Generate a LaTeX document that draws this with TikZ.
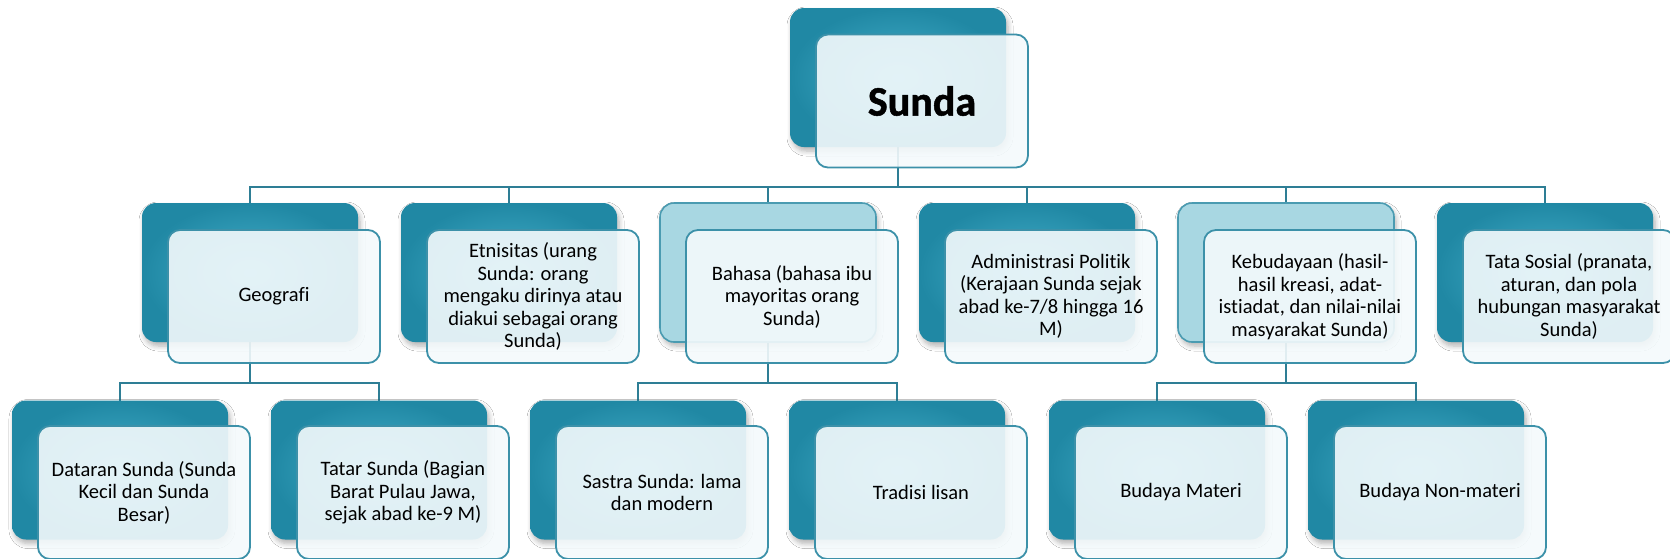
\documentclass[tikz,border=0pt]{standalone}
\usepackage{fontspec}
\setmainfont[Ligatures=NoCommon]{Carlito}
\newfontfamily\heavyfont[FakeBold=1.2]{Carlito}
\usetikzlibrary{shadows.blur}
\pgfdeclarelayer{bg}
\pgfsetlayers{bg,main}
\definecolor{tealdark}{HTML}{2088A4}
\definecolor{teallight}{HTML}{45B0CB}
\definecolor{lightback}{HTML}{A8D7E2}
\definecolor{lightborder}{HTML}{4A9BB1}
\definecolor{frontborder}{HTML}{3C91A9}
\definecolor{frontfill}{HTML}{F4FAFC}
\definecolor{connector}{HTML}{2E7E95}
\tikzset{
  backbase/.style={rectangle, rounded corners=14pt, minimum width=216pt,
    minimum height=139pt, inner sep=0pt, outer sep=0pt,
    blur shadow={shadow xshift=2pt, shadow yshift=-4pt, shadow blur steps=6,
      shadow blur radius=5pt, shadow opacity=30}},
  backbox/.style={backbase, shading=radial, inner color=teallight, outer color=tealdark},
  backlight/.style={backbase, fill=lightback, draw=lightborder, line width=1.6pt},
  frontbox/.style={rectangle, rounded corners=12pt, minimum width=212pt,
    minimum height=133pt, inner sep=0pt, outer sep=0pt, draw=frontborder,
    line width=1.8pt, fill=frontfill, fill opacity=0.9, draw opacity=1,
    text opacity=1, align=center, font=\fontsize{20.5}{22.5}\selectfont},
  titlefont/.style={font=\fontsize{42}{46}\selectfont\heavyfont\bfseries},
  conn/.style={draw=connector, line width=2.2pt}
}
\begin{document}
\begin{tikzpicture}[x=1pt,y=-1pt]
\useasboundingbox (0,0) rectangle (1670,558);
\clip (0,0) rectangle (1670,558);
% level 1
\node[backbox] (b0) at (898,77.5) {};
\node[frontbox,titlefont] (f0) at (922,101) {Sunda};
% level 2
\node[backbox]   (b1) at (250,272.5) {};
\node[frontbox]  (f1) at (274,296.5) {Geografi};
\node[backbox]   (b2) at (509,272.5) {};
\node[frontbox]  (f2) at (533,296.5) {Etnisitas (urang\\Sunda: orang\\mengaku dirinya atau\\diakui sebagai orang\\Sunda)};
\node[backlight] (b3) at (768,272.5) {};
\node[frontbox]  (f3) at (792,296.5) {Bahasa (bahasa ibu\\mayoritas orang\\Sunda)};
\node[backbox]   (b4) at (1027,272.5) {};
\node[frontbox]  (f4) at (1051,296.5) {Administrasi Politik\\(Kerajaan Sunda sejak\\abad ke-7/8 hingga 16\\M)};
\node[backlight] (b5) at (1286,272.5) {};
\node[frontbox]  (f5) at (1310,296.5) {Kebudayaan (hasil-\\hasil kreasi, adat-\\istiadat, dan nilai-nilai\\masyarakat Sunda)};
\node[backbox]   (b6) at (1545,272.5) {};
\node[frontbox]  (f6) at (1569,296.5) {Tata Sosial (pranata,\\aturan, dan pola\\hubungan masyarakat\\Sunda)};
% level 3
\node[backbox]  (c1) at (120,470) {};
\node[frontbox] (g1) at (144,492.5) {Dataran Sunda (Sunda\\Kecil dan Sunda\\Besar)};
\node[backbox]  (c2) at (379,470) {};
\node[frontbox] (g2) at (403,492.5) {Tatar Sunda (Bagian\\Barat Pulau Jawa,\\sejak abad ke-9 M)};
\node[backbox]  (c3) at (638,470) {};
\node[frontbox] (g3) at (662,492.5) {Sastra Sunda: lama\\dan modern};
\node[backbox]  (c4) at (897,470) {};
\node[frontbox] (g4) at (921,492.5) {Tradisi lisan};
\node[backbox]  (c5) at (1157,470) {};
\node[frontbox] (g5) at (1181,492.5) {Budaya Materi};
\node[backbox]  (c6) at (1416,470) {};
\node[frontbox] (g6) at (1440,492.5) {Budaya Non-materi};
% connectors
\begin{pgfonlayer}{bg}
\fill[white] (0,0) rectangle (1670,558);
\coordinate (j0) at (898,187);
\coordinate (j1) at (250,383);
\coordinate (j3) at (768,383);
\coordinate (j5) at (1286,383);
\foreach \n in {b1,b2,b3,b4,b5,b6}{
  \draw[conn] (b0.south) -- (j0) -| (\n.north);
}
\draw[conn] (b1.south) -- (j1) -| (c1.north);
\draw[conn] (b1.south) -- (j1) -| (c2.north);
\draw[conn] (b3.south) -- (j3) -| (c3.north);
\draw[conn] (b3.south) -- (j3) -| (c4.north);
\draw[conn] (b5.south) -- (j5) -| (c5.north);
\draw[conn] (b5.south) -- (j5) -| (c6.north);
\end{pgfonlayer}
\end{tikzpicture}
\end{document}
